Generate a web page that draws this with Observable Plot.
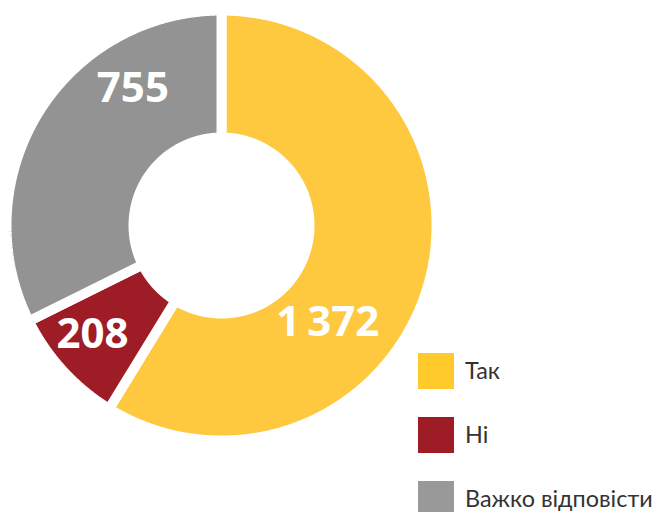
<!DOCTYPE html>
<html>
<head>
<meta charset="utf-8">
<script src="https://cdn.jsdelivr.net/npm/d3@7"></script>
<script src="https://cdn.jsdelivr.net/npm/@observablehq/plot@0.6"></script>
<style>
  html, body { margin: 0; padding: 0; background: #fff; }
  #wrap { position: relative; width: 658px; height: 512px; overflow: hidden; }
  #legend { position: absolute; left: 418px; top: 353px; font-family: Lato, "Noto Sans", sans-serif; font-size: 23.4px; color: #333; }
  .row { display: flex; align-items: center; height: 36px; margin-bottom: 28px; }
  .sw { width: 36px; height: 36px; margin-right: 11px; flex: none; }
  .lab { white-space: nowrap; line-height: 1; }
</style>
</head>
<body>
<div id="wrap"><div id="legend"></div></div>
<script>
// Data
const categories = ["Так", "Ні", "Важко відповісти"];
const values = [1372, 208, 755];
const colors = ["#FEC93F", "#9D1C26", "#939393"];
const legendColors = ["#FFCB2B", "#9D1C26", "#999999"];

// Layout (label placement within each slice: fraction of slice span, radius)
const labelT = [0.626, 0.567, 0.717];
const labelR = [144, 169, 163];
const outerR = 215, innerR = 88;

const rows = categories.map((c, i) => ({key: c, value: values[i], i}));
const arcs = d3.pie().sort(null).value(d => d.value)(rows);

const points = [];
for (const a of arcs) {
  const a0 = a.startAngle, a1 = a.endAngle;
  const n = Math.max(8, Math.ceil((a1 - a0) / 0.005));
  const poly = [];
  for (let k = 0; k <= n; k++) {
    const t = a0 + (a1 - a0) * k / n;
    poly.push({x: outerR * Math.sin(t), y: outerR * Math.cos(t)});
  }
  for (let k = n; k >= 0; k--) {
    const t = a0 + (a1 - a0) * k / n;
    poly.push({x: innerR * Math.sin(t), y: innerR * Math.cos(t)});
  }
  poly.push({...poly[0]});
  poly.push({...poly[1]});
  for (const p of poly) points.push({...p, key: a.data.key});
}

const fmt = d3.formatLocale({decimal: ",", thousands: "\u2009", grouping: [3], currency: ["", ""]}).format(",");
const labels = arcs.map((a, i) => {
  const t = a.startAngle + (a.endAngle - a.startAngle) * labelT[i];
  return {x: labelR[i] * Math.sin(t), y: labelR[i] * Math.cos(t), text: fmt(a.data.value)};
});

const chart = Plot.plot({
  width: 658,
  height: 512,
  margin: 0,
  x: {domain: [-221, 437], axis: null},
  y: {domain: [-287, 225], axis: null},
  color: {domain: categories, range: colors},
  marks: [
    Plot.line(points, {x: "x", y: "y", z: "key", fill: "key", stroke: "white", strokeWidth: 10, strokeLinejoin: "miter", curve: "linear"}),
    Plot.text(labels, {x: "x", y: "y", text: "text", fill: "white", fontSize: 42, fontWeight: "bold", fontFamily: "'Open Sans', sans-serif", textAnchor: "middle"})
  ]
});
document.getElementById("wrap").prepend(chart);

const legend = document.getElementById("legend");
categories.forEach((c, i) => {
  const row = document.createElement("div");
  row.className = "row";
  const sw = document.createElement("div");
  sw.className = "sw";
  sw.style.background = legendColors[i];
  const lab = document.createElement("span");
  lab.className = "lab";
  lab.textContent = c;
  row.append(sw, lab);
  legend.append(row);
});
</script>
</body>
</html>
